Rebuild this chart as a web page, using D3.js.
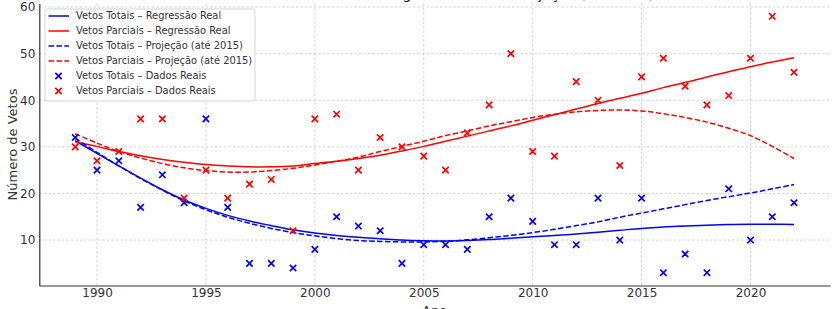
<!DOCTYPE html>
<html>
<head>
<meta charset="utf-8">
<script src="https://cdn.jsdelivr.net/npm/d3@7"></script>
<style>
  body { margin: 0; background: #fff; }
  svg { display: block; font-family: "DejaVu Sans", sans-serif; }
</style>
</head>
<body>
<div id="chart"></div>
<script>
// anos e dados reais
const years = [1989, 1990, 1991, 1992, 1993, 1994, 1995, 1996, 1997, 1998, 1999, 2000,
  2001, 2002, 2003, 2004, 2005, 2006, 2007, 2008, 2009, 2010, 2011, 2012,
  2013, 2014, 2015, 2016, 2017, 2018, 2019, 2020, 2021, 2022];

const vetosTotais = [32, 25, 27, 17, 24, 18, 36, 17, 5, 5, 4, 8,
  15, 13, 12, 5, 9, 9, 8, 15, 19, 14, 9, 9,
  19, 10, 19, 3, 7, 3, 21, 10, 15, 18];

const vetosParciais = [30, 27, 29, 36, 36, 19, 25, 19, 22, 23, 12, 36,
  37, 25, 32, 30, 28, 25, 33, 39, 50, 29, 28, 44,
  40, 26, 45, 49, 43, 39, 41, 49, 58, 46];

// curvas (regressão e projeção)
const regTotais = [31.3, 28.6, 25.9, 23.3, 20.8, 18.6, 16.8, 15.3, 14.1, 13.1, 12.2, 11.5,
  11.0, 10.6, 10.3, 10.0, 9.85, 9.8, 9.9, 10.1, 10.4, 10.7, 11.0, 11.3,
  11.7, 12.1, 12.5, 12.8, 13.0, 13.2, 13.35, 13.4, 13.4, 13.35];

const projTotais = [31.8, 28.8, 25.9, 23.2, 20.7, 18.4, 16.5, 14.9, 13.6, 12.5, 11.6, 10.9,
  10.3, 9.9, 9.7, 9.6, 9.6, 9.75, 10.05, 10.5, 11.0, 11.6, 12.3, 13.1,
  13.9, 14.9, 15.8, 16.7, 17.6, 18.5, 19.3, 20.1, 21.0, 21.9];

const regParciais = [31.1, 30.1, 29.0, 28.1, 27.3, 26.7, 26.2, 25.9, 25.7, 25.7, 25.9, 26.4,
  26.9, 27.5, 28.2, 29.1, 30.1, 31.2, 32.3, 33.4, 34.5, 35.7, 36.9, 38.1,
  39.3, 40.4, 41.5, 42.7, 43.8, 45.0, 46.1, 47.2, 48.2, 49.1];

const projParciais = [32.8, 30.8, 29.0, 27.6, 26.4, 25.5, 24.9, 24.6, 24.6, 24.9, 25.4, 26.1,
  26.9, 27.8, 29.0, 30.1, 31.2, 32.4, 33.4, 34.5, 35.4, 36.3, 37.0, 37.5,
  37.8, 37.9, 37.7, 37.1, 36.3, 35.3, 34.0, 32.4, 30.1, 27.5];

const xTicks = [1990, 1995, 2000, 2005, 2010, 2015, 2020];
const yTicks = [10, 20, 30, 40, 50, 60];

const width = 833, height = 309;
const margin = { top: 3.5, right: 3, bottom: 23.5, left: 39.3 };
const innerW = width - margin.left - margin.right;
const innerH = height - margin.top - margin.bottom;

const svg = d3.select("#chart").append("svg")
  .attr("width", width)
  .attr("height", height);

const g = svg.append("g")
  .attr("transform", "translate(" + margin.left + "," + margin.top + ")");

const x = d3.scaleLinear().domain([1987.35, 2023.65]).range([0, innerW]);
const y = d3.scaleLinear().domain([0.25, 60.75]).range([innerH, 0]);

// grade
g.append("g").selectAll("line")
  .data(xTicks).enter().append("line")
  .attr("x1", d => x(d)).attr("x2", d => x(d))
  .attr("y1", 0).attr("y2", innerH)
  .attr("stroke", "#c8c8c8").attr("stroke-width", 0.8)
  .attr("stroke-dasharray", "2.5,2");
g.append("g").selectAll("line")
  .data(yTicks).enter().append("line")
  .attr("x1", 0).attr("x2", innerW)
  .attr("y1", d => y(d)).attr("y2", d => y(d))
  .attr("stroke", "#c8c8c8").attr("stroke-width", 0.8)
  .attr("stroke-dasharray", "2.5,2");

// eixos
const xAxis = g.append("g")
  .attr("transform", "translate(0," + innerH + ")")
  .call(d3.axisBottom(x).tickValues(xTicks).tickFormat(d3.format("d")).tickSize(0).tickPadding(3));
const yAxis = g.append("g")
  .call(d3.axisLeft(y).tickValues(yTicks).tickSize(0).tickPadding(4));

[xAxis, yAxis].forEach(a => {
  a.select(".domain").attr("stroke", "#333").attr("stroke-width", 1.2);
  a.selectAll("text").attr("font-size", 12).attr("fill", "#333")
    .attr("font-family", "DejaVu Sans, sans-serif");
});

// linhas
const line = d3.line().x((d, i) => x(years[i])).y(d => y(d)).curve(d3.curveCatmullRom);

const curves = [
  { data: regTotais, color: "#0000ff", dash: null },
  { data: regParciais, color: "#ff0000", dash: null },
  { data: projTotais, color: "#0000ff", dash: "5.5,2.4" },
  { data: projParciais, color: "#ff0000", dash: "5.5,2.4" }
];

curves.forEach(c => {
  g.append("path")
    .datum(c.data)
    .attr("d", line)
    .attr("fill", "none")
    .attr("stroke", c.color)
    .attr("stroke-width", 1.5)
    .attr("stroke-dasharray", c.dash);
});

// marcadores x (duas linhas cruzadas)
const r = 3.2;
const xMark = "M" + (-r) + "," + (-r) + "L" + r + "," + r + "M" + (-r) + "," + r + "L" + r + "," + (-r);

function drawMarks(values, color) {
  g.append("g").selectAll("path")
    .data(values).enter().append("path")
    .attr("d", xMark)
    .attr("transform", (d, i) => "translate(" + x(years[i]) + "," + y(d) + ")")
    .attr("fill", "none")
    .attr("stroke", color)
    .attr("stroke-width", 1.7);
}
drawMarks(vetosTotais, "#0000ff");
drawMarks(vetosParciais, "#ff0000");

// títulos
svg.append("text")
  .attr("x", margin.left + innerW / 2)
  .attr("y", -1)
  .attr("text-anchor", "middle")
  .attr("font-size", 14)
  .attr("fill", "#222")
  .text("Vetos Totais e Parciais – Regressão Real vs Projeção (até 2015)");

svg.append("text")
  .attr("x", margin.left + innerW / 2)
  .attr("y", 314.5)
  .attr("text-anchor", "middle")
  .attr("font-size", 13)
  .attr("fill", "#333")
  .text("Ano");

svg.append("text")
  .attr("transform", "rotate(-90)")
  .attr("x", -(margin.top + innerH / 2))
  .attr("y", 17)
  .attr("text-anchor", "middle")
  .attr("font-size", 13)
  .attr("fill", "#333")
  .text("Número de Vetos");

// legenda
const legendItems = [
  { label: "Vetos Totais – Regressão Real", color: "#0000ff", type: "line", dash: null },
  { label: "Vetos Parciais – Regressão Real", color: "#ff0000", type: "line", dash: null },
  { label: "Vetos Totais – Projeção (até 2015)", color: "#0000ff", type: "line", dash: "5.5,2.4" },
  { label: "Vetos Parciais – Projeção (até 2015)", color: "#ff0000", type: "line", dash: "5.5,2.4" },
  { label: "Vetos Totais – Dados Reais", color: "#0000ff", type: "mark" },
  { label: "Vetos Parciais – Dados Reais", color: "#ff0000", type: "mark" }
];

const legend = svg.append("g").attr("transform", "translate(45,9)");
legend.append("rect")
  .attr("width", 210).attr("height", 92)
  .attr("rx", 2.5)
  .attr("fill", "#fff").attr("fill-opacity", 0.85)
  .attr("stroke", "#d0d0d0").attr("stroke-width", 0.9);

legendItems.forEach((d, i) => {
  const row = legend.append("g").attr("transform", "translate(0," + (7 + i * 15) + ")");
  if (d.type === "line") {
    row.append("line")
      .attr("x1", 3.5).attr("x2", 24).attr("y1", 0).attr("y2", 0)
      .attr("stroke", d.color).attr("stroke-width", 1.5)
      .attr("stroke-dasharray", d.dash);
  } else {
    row.append("path").attr("d", xMark)
      .attr("transform", "translate(13.5,0)")
      .attr("fill", "none").attr("stroke", d.color).attr("stroke-width", 1.7);
  }
  row.append("text")
    .attr("x", 31).attr("y", 0).attr("dy", "0.35em")
    .attr("font-size", 9.9)
    .attr("fill", "#333")
    .text(d.label);
});
</script>
</body>
</html>
